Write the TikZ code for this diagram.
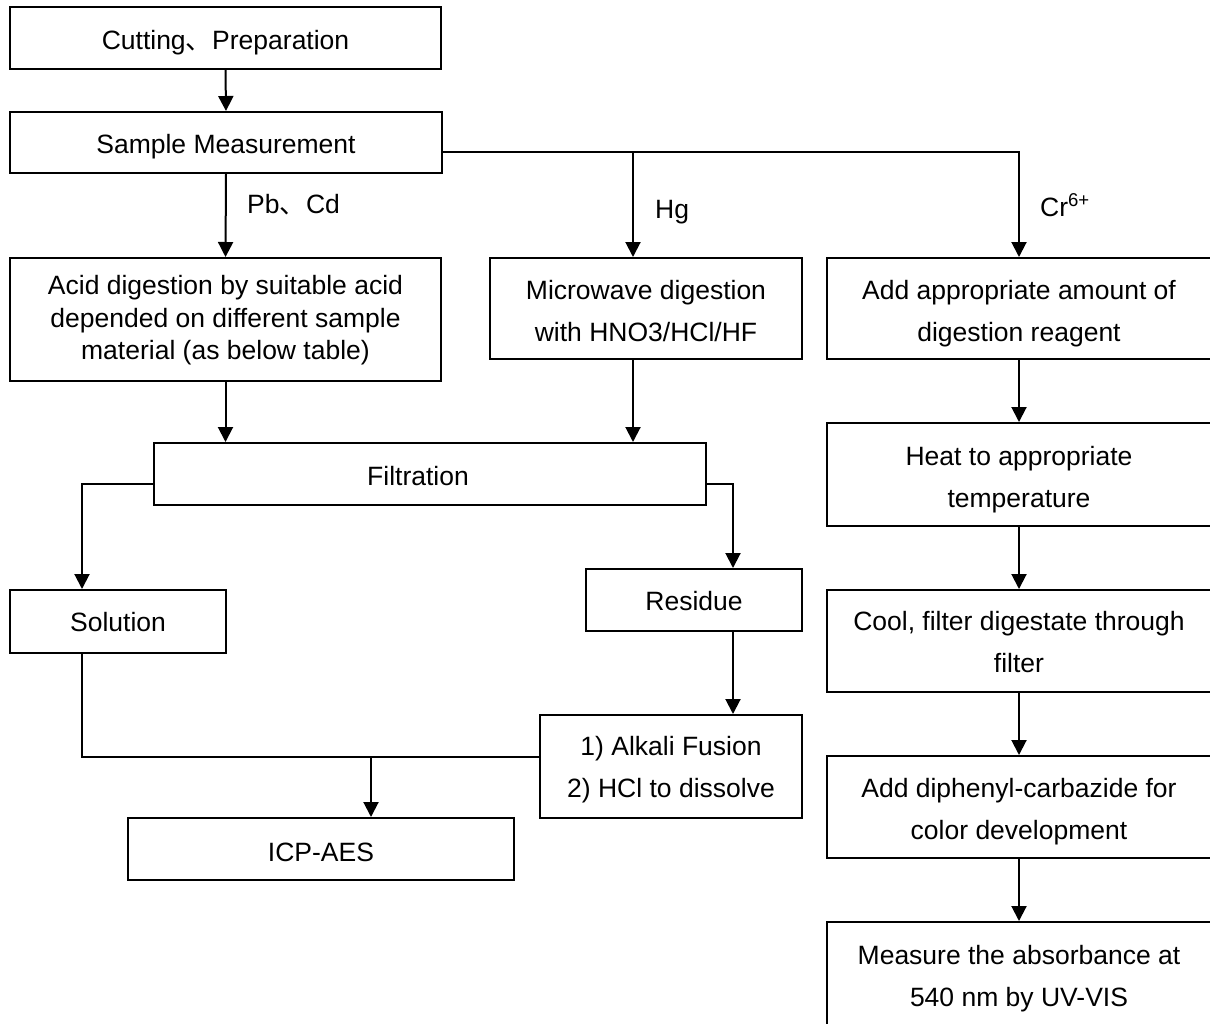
\documentclass[tikz,border=0pt]{standalone}
\usepackage{fontspec}
\setmainfont{Liberation Sans}
\newfontfamily\cjk{Noto Sans CJK SC}
\usetikzlibrary{arrows.meta}
\newcommand\boxtext[2][-3.5pt]{\raisebox{#1}[\height][\depth]{\begin{tabular}{@{}c@{}}#2\end{tabular}}}
\begin{document}
\begin{tikzpicture}[x=1pt,y=-1pt,
  box/.style={draw, line width=2pt, rectangle, inner sep=0pt, font=\fontsize{26.5}{42}\selectfont},
  box3/.style={box, font=\fontsize{26.5}{32.5}\selectfont},
  arr/.style={-{Triangle[length=15pt,width=15pt]}, line width=2pt},
  ln/.style={line width=2pt},
  lbl/.style={anchor=base west, inner sep=0pt, font=\fontsize{26.5}{32}\selectfont}]
\clip (0,0) rectangle (1210,1023);
\fill[white] (0,0) rectangle (1210,1023);
% left / middle column
\node[box, minimum width=431pt, minimum height=62pt] (cut) at (225.5,38) {\boxtext{Cutting{\cjk 、}Preparation}};
\node[box, minimum width=432pt, minimum height=61pt] (samp) at (226,142.5) {\boxtext[-2.5pt]{Sample Measurement}};
\node[box3, minimum width=431pt, minimum height=123pt] (acid) at (225.5,319.5) {\boxtext[-1pt]{Acid digestion by suitable acid\\depended on different sample\\material (as below table)}};
\node[box, minimum width=312pt, minimum height=101pt] (micro) at (646,308.5) {\boxtext{Microwave digestion\\with HNO3/HCl/HF}};
\node[box, minimum width=552pt, minimum height=62pt] (filt) at (430,474) {\boxtext{Filtration\hspace*{24pt}}};
\node[box, minimum width=216pt, minimum height=63pt] (sol) at (118,621.5) {\boxtext[-2pt]{Solution}};
\node[box, minimum width=216pt, minimum height=62pt] (res) at (694,600) {\boxtext[-2pt]{Residue}};
\node[box, minimum width=262pt, minimum height=103pt] (alk) at (671,766.5) {\boxtext[-2pt]{1) Alkali Fusion\\2) HCl to dissolve}};
\node[box, minimum width=386pt, minimum height=62pt] (icp) at (321,849) {\boxtext[-4.5pt]{ICP-AES}};
% right column
\node[box, minimum width=384pt, minimum height=101pt] (add) at (1019,308.5) {\boxtext{Add appropriate amount of\\digestion reagent}};
\node[box, minimum width=384pt, minimum height=103pt] (heat) at (1019,474.5) {\boxtext{Heat to appropriate\\temperature}};
\node[box, minimum width=384pt, minimum height=102pt] (cool) at (1019,641) {\boxtext[-2.5pt]{Cool, filter digestate through\\filter}};
\node[box, minimum width=384pt, minimum height=102pt] (diph) at (1019,807) {\boxtext{Add diphenyl-carbazide for\\color development}};
\node[box, minimum width=384pt, minimum height=103pt] (meas) at (1019,973.5) {\boxtext{Measure the absorbance at\\540 nm by UV-VIS}};
% labels
\node[lbl] (lpb) at (247,213) {Pb{\cjk 、}Cd};
\node[lbl] (lhg) at (655,218) {Hg};
\node[lbl] (lcr) at (1040,216) {Cr\textsuperscript{6+}};
% helper coordinates
\coordinate (hgx) at (633,152);
\coordinate (fl) at (82,484);
\coordinate (fr) at (733,484);
\coordinate (jn) at (371,757);
% connectors
\draw[arr] (cut.south) -- (samp.north);
\draw[arr] (samp.south) -- (acid.north);
\draw[arr] (samp.east |- hgx) -| (add.north);
\draw[arr] (hgx) -- (hgx |- micro.north);
\draw[arr] (acid.south) -- (acid.south |- filt.north);
\draw[arr] (hgx |- micro.south) -- (hgx |- filt.north);
\draw[arr] (filt.west |- fl) -| (sol.north -| fl);
\draw[arr] (filt.east |- fr) -| (res.north -| fr);
\draw[arr] (res.south -| fr) -- (alk.north -| fr);
\draw[ln] (sol.south -| fl) |- (alk.west |- jn);
\draw[arr] (jn) -- (icp.north -| jn);
\draw[arr] (add.south) -- (heat.north);
\draw[arr] (heat.south) -- (cool.north);
\draw[arr] (cool.south) -- (diph.north);
\draw[arr] (diph.south) -- (meas.north);
\end{tikzpicture}
\end{document}
